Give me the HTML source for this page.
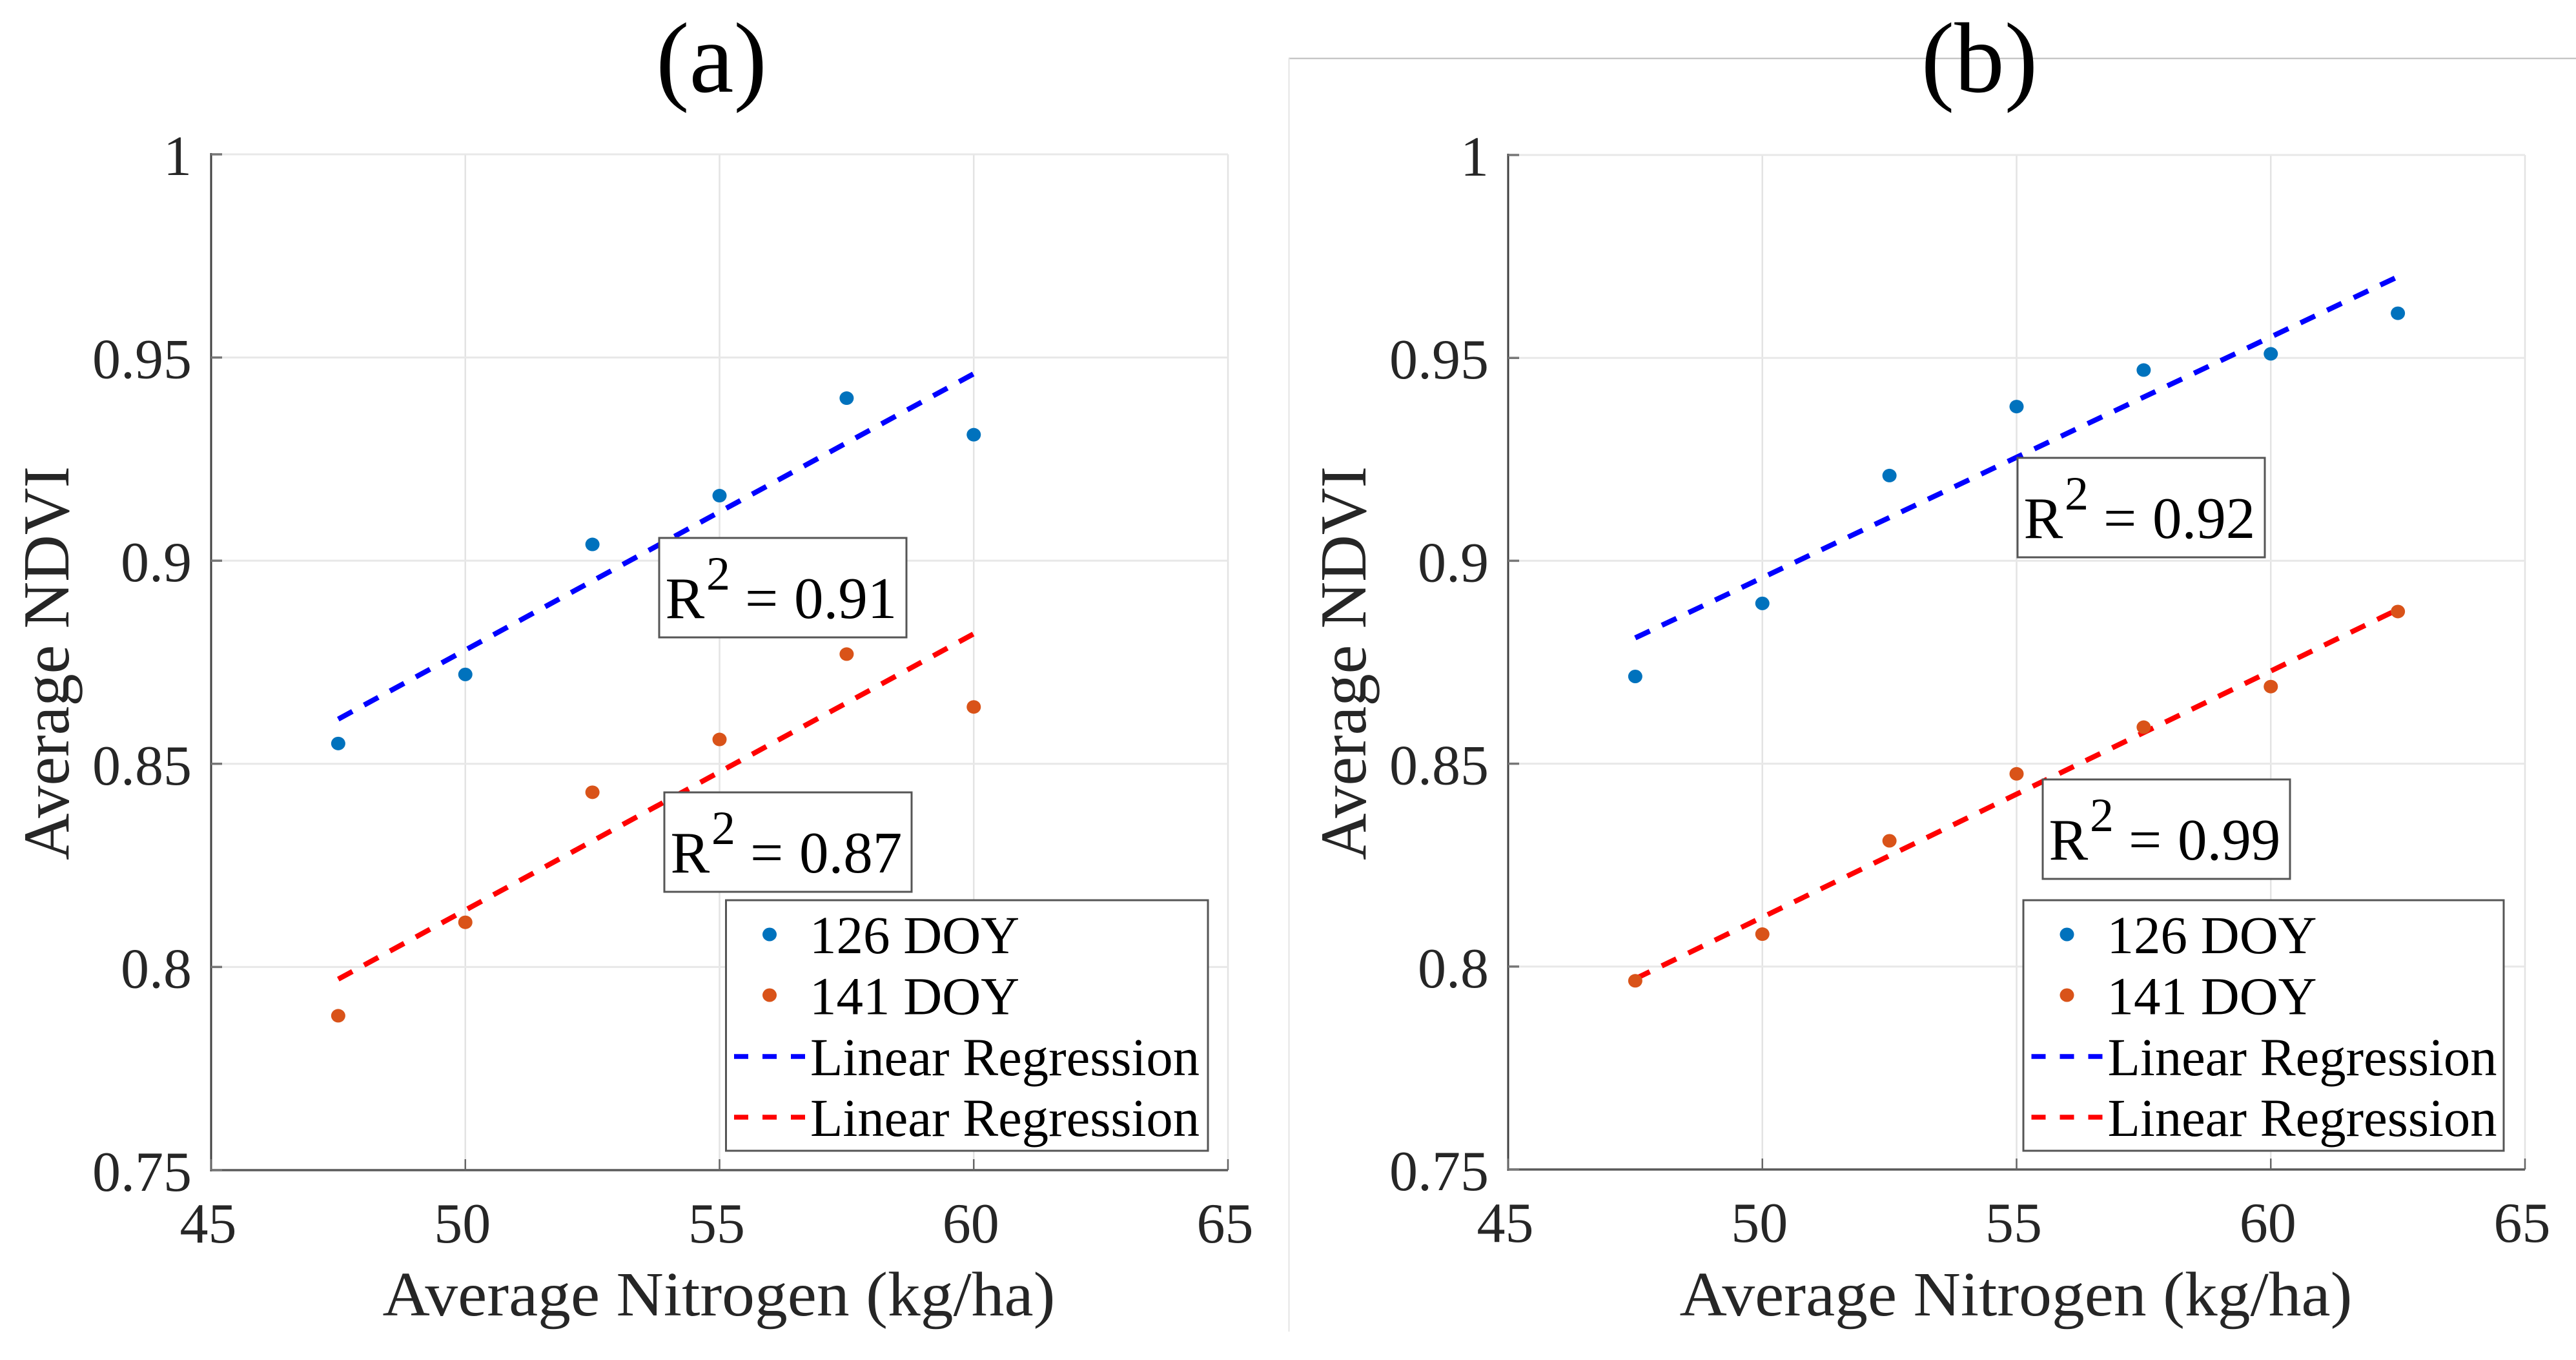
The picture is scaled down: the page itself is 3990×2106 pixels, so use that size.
<!DOCTYPE html>
<html>
<head>
<meta charset="utf-8">
<title>Average NDVI vs Average Nitrogen</title>
<style>
html,body{margin:0;padding:0;background:#fff;width:3990px;height:2106px;overflow:hidden}
svg{display:block}
text{font-family:"Liberation Serif","Times New Roman",serif}
.tick{font-size:88px;fill:#262626}
.axl{font-size:97px;fill:#262626}
.ayl{font-size:102px;fill:#262626}
.leg{font-size:83px;fill:#000}
.r{font-size:91px;fill:#000}
.title{font-size:155px;fill:#000}
</style>
</head>
<body>
<svg id="fig" xmlns="http://www.w3.org/2000/svg" width="3990" height="2106" viewBox="0 0 3990 2106">
  <rect x="0" y="0" width="3990" height="2106" fill="#fff"/>
  <line x1="1996" y1="90.5" x2="3990" y2="90.5" stroke="#bbb" stroke-width="2"/>
  <line x1="1996.5" y1="90" x2="1996.5" y2="2062" stroke="#e4e4e4" stroke-width="2"/>
  <g id="panelA"></g>
  <g id="panelB"></g>
  <text class="title" x="1102" y="142" text-anchor="middle">(a)</text>
  <text class="title" x="3066" y="142" text-anchor="middle">(b)</text>
</svg>
<script>
// ---- chart data ----
const xTickValues = [45, 50, 55, 60, 65];
const yTickValues = [0.75, 0.8, 0.85, 0.9, 0.95, 1];
const yTickLabels = ['0.75', '0.8', '0.85', '0.9', '0.95', '1'];

const nitrogenA = [47.5, 50, 52.5, 55, 57.5, 60];
const ndvi126A = [0.855, 0.872, 0.904, 0.916, 0.940, 0.931];
const ndvi141A = [0.788, 0.811, 0.843, 0.856, 0.877, 0.864];
const fitXA = [47.5, 60];
const fit126A = [0.861, 0.946];
const fit141A = [0.797, 0.882];

const nitrogenB = [47.5, 50, 52.5, 55, 57.5, 60, 62.5];
const ndvi126B = [0.8715, 0.8895, 0.921, 0.938, 0.947, 0.951, 0.961];
const ndvi141B = [0.7965, 0.808, 0.831, 0.8475, 0.859, 0.869, 0.8875];
const fitXB = [47.5, 62.5];
const fit126B = [0.881, 0.970];
const fit141B = [0.797, 0.888];

const legendLabels = ['126 DOY', '141 DOY', 'Linear Regression', 'Linear Regression'];
const r2LabelA = ['0.91', '0.87'];
const r2LabelB = ['0.92', '0.99'];

const NS = 'http://www.w3.org/2000/svg';
const BLUE_DOT = '#0072bd', ORANGE_DOT = '#d95319';

function mk(parent, tag, attrs, text) {
  const el = document.createElementNS(NS, tag);
  for (const k in attrs) el.setAttribute(k, attrs[k]);
  if (text !== undefined) el.textContent = text;
  parent.appendChild(el);
  return el;
}

function drawPanel(g, box, nitrogen, s126, s141, fitX, fit126, fit141, r2, r2Boxes, legendBox, dx) {
  const X = v => box.left + (v - 45) / 20 * (box.right - box.left);
  const Y = v => box.bottom - (v - 0.75) / 0.25 * (box.bottom - box.top);

  // grid
  xTickValues.forEach(t => {
    const el = mk(g, 'line', {x1: X(t), y1: box.top, x2: X(t), y2: box.bottom, stroke: '#e3e3e3', 'stroke-width': 2.5});
    
    
  });
  yTickValues.forEach(t => {
    const el = mk(g, 'line', {x1: box.left, y1: Y(t), x2: box.right, y2: Y(t), stroke: '#e8e8e8', 'stroke-width': 3});
    
    
  });

  // axes and ticks
  const yAxis = mk(g, 'line', {x1: box.left, y1: box.top - 2, x2: box.left, y2: box.bottom + 2, stroke: '#404040', 'stroke-width': 3});
  
  
  const xAxis = mk(g, 'line', {x1: box.left, y1: box.bottom, x2: box.right, y2: box.bottom, stroke: '#5a5a5a', 'stroke-width': 3.5});
  
  

  xTickValues.forEach(t => {
    const tk = mk(g, 'line', {x1: X(t), y1: box.bottom, x2: X(t), y2: box.bottom - 17, stroke: '#666', 'stroke-width': 2.5});
    
    
    const lb = mk(g, 'text', {class: 'tick', x: X(t) - 4.5, y: box.bottom + 112, 'text-anchor': 'middle'}, String(t));
    
    
  });
  yTickValues.forEach((t, i) => {
    const tk = mk(g, 'line', {x1: box.left, y1: Y(t), x2: box.left + 17, y2: Y(t), stroke: '#777', 'stroke-width': 3.5});
    
    
    const lb = mk(g, 'text', {class: 'tick', x: box.left - 30, y: Y(t) + 32, 'text-anchor': 'end'}, yTickLabels[i]);
    
    
  });

  // axis titles
  const xt = mk(g, 'text', {class: 'axl', x: (box.left + box.right) / 2 - 1, y: 2037, 'text-anchor': 'middle', textLength: 1042, lengthAdjust: 'spacingAndGlyphs'}, 'Average Nitrogen (kg/ha)');
  
  
  const yt = mk(g, 'text', {class: 'ayl', x: 0, y: 0, 'text-anchor': 'middle', textLength: 610, lengthAdjust: 'spacingAndGlyphs', transform: 'translate(' + (box.left - 221) + ',1027) rotate(-90)'}, 'Average NDVI');
  
  

  // regression lines
  const l1 = mk(g, 'line', {x1: X(fitX[0]), y1: Y(fit126[0]), x2: X(fitX[1]), y2: Y(fit126[1]), stroke: '#0000ff', 'stroke-width': 8, 'stroke-dasharray': '25 20.6'});
  
  
  const l2 = mk(g, 'line', {x1: X(fitX[0]), y1: Y(fit141[0]), x2: X(fitX[1]), y2: Y(fit141[1]), stroke: '#ff0000', 'stroke-width': 8, 'stroke-dasharray': '25 20.6'});
  
  

  // points
  nitrogen.forEach((n, i) => {
    const a = mk(g, 'ellipse', {cx: X(n), cy: Y(s126[i]), rx: 11, ry: 10.5, fill: BLUE_DOT});
    
    
    const b = mk(g, 'ellipse', {cx: X(n), cy: Y(s141[i]), rx: 11, ry: 10.5, fill: ORANGE_DOT});
    
    
  });

  // R-squared annotation boxes
  r2Boxes.forEach((b, i) => {
    const grp = mk(g, 'g', {});
    
    
    mk(grp, 'rect', {x: b.x, y: b.y, width: 383, height: 154, fill: '#fff', stroke: '#555', 'stroke-width': 3});
    const by = b.y + 124;
    mk(grp, 'text', {class: 'r', x: b.x + 9.5, y: by}, 'R');
    mk(grp, 'text', {class: 'r', x: b.x + 73, y: by - 44, style: 'font-size:74px'}, '2');
    mk(grp, 'text', {class: 'r', x: b.x + 133, y: by}, '=');
    mk(grp, 'text', {class: 'r', x: b.x + 209, y: by}, r2[i]);
  });

  // legend
  const leg = mk(g, 'g', {transform: 'translate(' + dx + ',0)'});
  
  
  mk(leg, 'rect', {x: 1124.5, y: 1394, width: legendBox, height: 388, fill: '#fff', stroke: '#555', 'stroke-width': 3});
  const rows = [1476, 1570.5, 1665, 1759];
  const e1 = mk(leg, 'ellipse', {cx: 1192, cy: 1447, rx: 11, ry: 10.5, fill: BLUE_DOT});
  
  
  const e2 = mk(leg, 'ellipse', {cx: 1192, cy: 1541, rx: 11, ry: 10.5, fill: ORANGE_DOT});
  
  
  const d1 = mk(leg, 'line', {x1: 1137, y1: 1636, x2: 1247, y2: 1636, stroke: '#0000ff', 'stroke-width': 7.5, 'stroke-dasharray': '22 22'});
  
  
  const d2 = mk(leg, 'line', {x1: 1137, y1: 1730, x2: 1247, y2: 1730, stroke: '#ff0000', 'stroke-width': 7.5, 'stroke-dasharray': '22 22'});
  
  
  legendLabels.forEach((t, i) => {
    const attrs = {class: 'leg', x: i < 2 ? 1254 : 1255, y: rows[i]};
    if (i >= 2) { attrs.textLength = 603; attrs.lengthAdjust = 'spacingAndGlyphs'; }
    const lb = mk(leg, 'text', attrs, t);
    
    
  });
}

drawPanel(document.getElementById('panelA'),
  {left: 327, right: 1902, top: 239, bottom: 1812},
  nitrogenA, ndvi126A, ndvi141A, fitXA, fit126A, fit141A, r2LabelA,
  [{x: 1021, y: 833}, {x: 1029, y: 1227}], 746.5, 0);

drawPanel(document.getElementById('panelB'),
  {left: 2336, right: 3911, top: 240, bottom: 1811},
  nitrogenB, ndvi126B, ndvi141B, fitXB, fit126B, fit141B, r2LabelB,
  [{x: 3125, y: 709}, {x: 3164, y: 1207}], 744, 2009.5);
</script>
</body>
</html>
